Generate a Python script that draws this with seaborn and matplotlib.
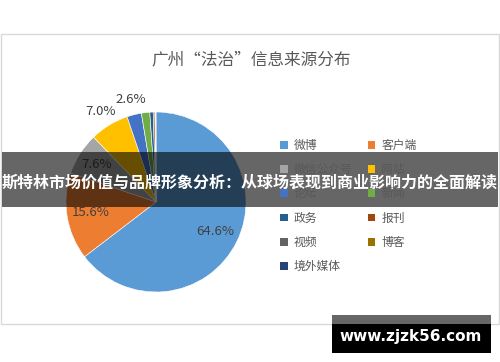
import matplotlib
matplotlib.use("Agg")
import matplotlib.pyplot as plt
import matplotlib.patches as mpatches
import seaborn as sns
import numpy as np

# ---- data ----
categories = ["微博", "客户端", "微信公众号", "网站", "论坛", "新闻",
              "政务", "报刊", "视频", "博客", "境外媒体"]
shares = [64.6, 15.6, 7.6, 7.0, 2.6, 1.5, 0.6, 0.3, 0.1, 0.05, 0.05]
shown_labels = ["64.6%", "15.6%", "7.6%", "7.0%", "2.6%"]
title = "广州“法治”信息来源分布"
banner = "斯特林市场价值与品牌形象分析：从球场表现到商业影响力的全面解读"
watermark = "www.zjzk56.com"

sns.set_theme(style="white")
plt.rcParams["font.family"] = ["Noto Sans CJK SC", "DejaVu Sans"]

colors = ["#5B9BD5", "#ED7D31", "#A5A5A5", "#FFC000", "#4472C4", "#70AD47",
          "#255E91", "#9E480E", "#636363", "#997300", "#264478"]
sns.set_palette(colors)

W, H = 500, 362
fig = plt.figure(figsize=(5, 3.62), dpi=100)
fig.patch.set_facecolor("white")

def fx(x): return x / W
def fy(y): return 1 - y / H

# chart border
fig.add_artist(mpatches.Rectangle((fx(1), fy(324)), fx(499) - fx(1), fy(34) - fy(324),
                                  transform=fig.transFigure, fill=False,
                                  edgecolor="#D9D9D9", linewidth=1.0))

# title
fig.text(fx(251), fy(60), title, ha="center", va="center", fontsize=12, color="#595959")

# pie
cx, cy, R = 156, 202, 90
ax = fig.add_axes([fx(cx - R), fy(cy + R), 2 * R / W, 2 * R / H])
wedges, _ = ax.pie(shares, colors=colors, startangle=90, counterclock=False,
                   wedgeprops=dict(edgecolor="white", linewidth=0.4))
ax.set_xlim(-1, 1)
ax.set_ylim(-1, 1)
ax.set_aspect("equal")
ax.axis("off")

label_r = [0.74, 0.74, 0.78, 1.18, 1.17]
for w, lab, r in zip(wedges, shown_labels, label_r):
    ang = np.deg2rad((w.theta1 + w.theta2) / 2)
    ax.text(r * np.cos(ang), r * np.sin(ang), lab, ha="center", va="center",
            fontsize=9.5, color="#404040", clip_on=False)

# legend (row-wise order with ncol=2 -> reorder column-wise)
order = [0, 2, 4, 6, 8, 10, 1, 3, 5, 7, 9]
handles = [mpatches.Patch(facecolor=colors[i], edgecolor="none") for i in order]
labels = [categories[i] for i in order]
leg = fig.legend(handles, labels, ncol=2, loc="upper left",
                 bbox_to_anchor=(fx(280), fy(139)), frameon=False,
                 fontsize=8.5, handlelength=0.65, handleheight=0.65,
                 handletextpad=0.5, labelspacing=0.95, columnspacing=1.3,
                 borderaxespad=0, borderpad=0)
for t in leg.get_texts():
    t.set_color("#595959")

# banner overlay
fig.add_artist(mpatches.Rectangle((fx(2), fy(207)), fx(498) - fx(2), fy(152) - fy(207),
                                  transform=fig.transFigure, facecolor="black",
                                  alpha=0.6, edgecolor="none"))
fig.text(fx(250), fy(183), banner, ha="center", va="center", fontsize=11.5,
         fontweight="bold", color="white")

# watermark
fig.add_artist(mpatches.Rectangle((fx(332), fy(324)), fx(491) - fx(332), fy(315) - fy(324),
                                  transform=fig.transFigure, facecolor="#666666",
                                  edgecolor="none"))
fig.add_artist(mpatches.Rectangle((fx(332), fy(353)), fx(491) - fx(332), fy(324) - fy(353),
                                  transform=fig.transFigure, facecolor="black",
                                  edgecolor="none"))
fig.text(fx(411), fy(337), watermark, ha="center", va="center", fontsize=11,
         fontweight="bold", color="white", family="DejaVu Sans")

fig.savefig("out.png", dpi=100)
